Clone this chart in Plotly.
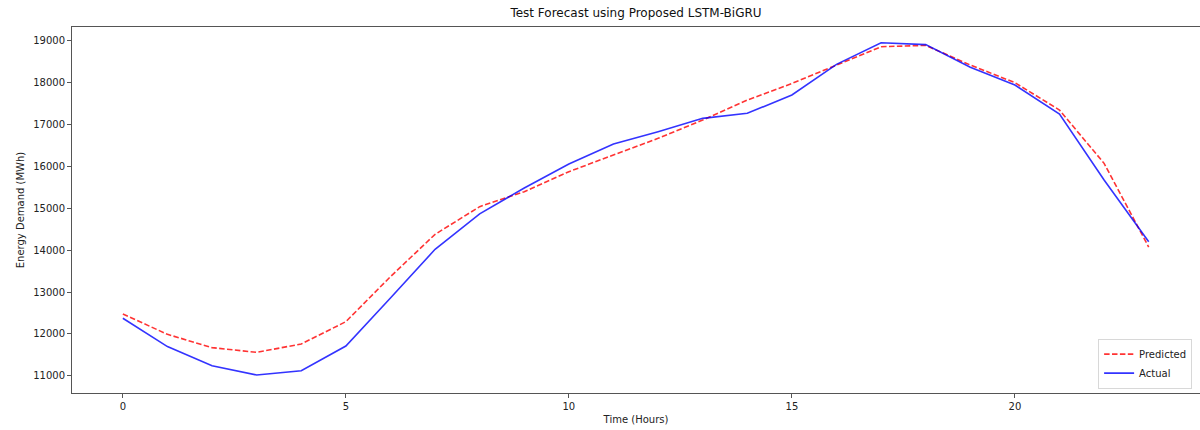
import plotly.graph_objects as go

hours = list(range(24))
predicted = [12476, 11992, 11675, 11563, 11762, 12294, 13365, 14373, 15032, 15389,
             15865, 16262, 16659, 17095, 17571, 17965, 18400, 18840, 18873, 18405,
             17984, 17333, 16063, 14070]
actual = [12375, 11700, 11245, 11024, 11126, 11714, 12857, 14016, 14860, 15476,
          16048, 16524, 16817, 17135, 17254, 17690, 18420, 18936, 18890, 18350,
          17929, 17238, 15667, 14198]
x_ticks = [0, 5, 10, 15, 20]
y_ticks = [11000, 12000, 13000, 14000, 15000, 16000, 17000, 18000, 19000]

font = "DejaVu Sans, sans-serif"
axis_col = "#555555"

fig = go.Figure()
fig.add_trace(go.Scatter(
    x=hours, y=predicted, mode="lines", name="Predicted",
    line=dict(color="rgba(255,0,0,0.8)", width=1.6, dash="5.5px,2.4px"),
))
fig.add_trace(go.Scatter(
    x=hours, y=actual, mode="lines", name="Actual",
    line=dict(color="rgba(0,0,255,0.8)", width=1.6),
))

fig.update_layout(
    width=1200, height=430,
    margin=dict(l=72, r=0, t=27, b=37),
    paper_bgcolor="white", plot_bgcolor="white",
    font=dict(family=font, size=10, color="#222222"),
    title=dict(text="Test Forecast using Proposed LSTM-BiGRU", x=0.5, xref="paper",
               xanchor="center", y=0.97, yref="container", yanchor="middle",
               font=dict(size=12, color="#111111")),
    showlegend=True,
    legend=dict(x=0.993, y=0.012, xanchor="right", yanchor="bottom",
                bgcolor="rgba(255,255,255,0.8)", bordercolor="#d8d8d8", borderwidth=1,
                font=dict(size=10, color="#222222"), traceorder="normal",
                itemwidth=30, tracegroupgap=0),
)
fig.update_xaxes(
    range=[-1.14, 24.15], tickvals=x_ticks, ticktext=[str(v) for v in x_ticks],
    showgrid=False, zeroline=False, showline=True, linecolor=axis_col, linewidth=1,
    mirror=True, ticks="outside", ticklen=4, tickcolor=axis_col,
    title=dict(text="Time (Hours)", standoff=4, font=dict(size=10)),
)
fig.update_yaxes(
    range=[10595, 19310], tickvals=y_ticks, ticktext=[str(v) for v in y_ticks],
    showgrid=False, zeroline=False, showline=True, linecolor=axis_col, linewidth=1,
    mirror=False, ticks="outside", ticklen=4, tickcolor=axis_col,
    title=dict(text="Energy Demand (MWh)", standoff=6, font=dict(size=10)),
)

fig.write_html("out.html")
